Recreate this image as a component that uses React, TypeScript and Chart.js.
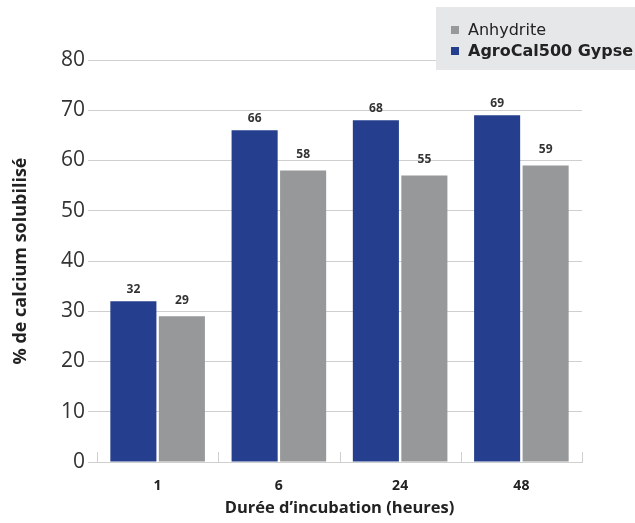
import React, { useEffect, useRef } from "react";
import { Chart, registerables } from "chart.js";

Chart.register(...registerables);

const categories = ["1", "6", "24", "48"];
const gypseValues = [32, 66, 68, 69];
const anhydriteValues = [29, 58, 57, 59];
const gypseLabels = ["32", "66", "68", "69"];
const anhydriteLabels = ["29", "58", "55", "59"];
const yTicks = [0, 10, 20, 30, 40, 50, 60, 70, 80];

const BLUE = "#253f8e";
const GRAY = "#97989a";
const GRID = "#cfcfcf";
const FONT = "'Open Sans', 'DejaVu Sans', sans-serif";
const WIDE = "'DejaVu Sans', sans-serif";

const valueLabelPlugin = {
  id: "valueLabels",
  afterDatasetsDraw(chart: any) {
    const ctx = chart.ctx;
    const sets = [gypseLabels, anhydriteLabels];
    const offsets = [12, 16];
    ctx.save();
    ctx.font = `bold 12px ${FONT}`;
    ctx.fillStyle = "#333";
    ctx.textAlign = "center";
    ctx.textBaseline = "middle";
    chart.data.datasets.forEach((_: any, di: number) => {
      const meta = chart.getDatasetMeta(di);
      meta.data.forEach((el: any, i: number) => {
        ctx.fillText(sets[di][i], el.x, el.y - offsets[di]);
      });
    });
    const area = chart.chartArea;
    ctx.strokeStyle = GRID;
    ctx.lineWidth = 1;
    const n = categories.length;
    const w = (area.right - area.left) / n;
    for (let i = 0; i <= n; i++) {
      const x = Math.round(area.left + i * w) + 0.5;
      ctx.beginPath();
      ctx.moveTo(x, area.bottom);
      ctx.lineTo(x, area.bottom - 10);
      ctx.stroke();
    }
    ctx.restore();
  },
};

const legendPlugin = {
  id: "boxLegend",
  afterDraw(chart: any) {
    const ctx = chart.ctx;
    ctx.save();
    ctx.fillStyle = "#e6e7e8";
    ctx.fillRect(436, 7, 220, 63);
    const items = [
      { label: "Anhydrite", color: GRAY, bold: false, y: 30 },
      { label: "AgroCal500 Gypse", color: BLUE, bold: true, y: 51 },
    ];
    items.forEach((it) => {
      ctx.fillStyle = it.color;
      ctx.fillRect(451, it.y - 4, 8, 8);
      ctx.fillStyle = "#222";
      ctx.font = `${it.bold ? "bold " : ""}16px ${WIDE}`;
      ctx.textAlign = "left";
      ctx.textBaseline = "middle";
      ctx.fillText(it.label, 468, it.y + 1);
    });
    ctx.restore();
  },
};

export default function App() {
  const ref = useRef<HTMLCanvasElement>(null);
  useEffect(() => {
    if (!ref.current) return;
    const chart = new Chart(ref.current, {
      type: "bar",
      data: {
        labels: categories,
        datasets: [
          {
            label: "AgroCal500 Gypse",
            data: gypseValues,
            backgroundColor: BLUE,
            categoryPercentage: 0.8,
            barPercentage: 0.95,
          },
          {
            label: "Anhydrite",
            data: anhydriteValues,
            backgroundColor: GRAY,
            categoryPercentage: 0.8,
            barPercentage: 0.95,
          },
        ],
      },
      options: {
        animation: false,
        responsive: true,
        maintainAspectRatio: false,
        layout: { padding: { top: 60, right: 53, left: 0, bottom: 0 } },
        plugins: { legend: { display: false }, tooltip: { enabled: false } },
        scales: {
          x: {
            grid: { display: false, drawTicks: false },
            border: { display: true, color: GRID },
            ticks: {
              color: "#222",
              font: { family: FONT, size: 14, weight: "bold" },
              padding: 16,
            },
            title: {
              display: true,
              text: "Durée d’incubation (heures)",
              color: "#222",
              font: { family: FONT, size: 16.5, weight: "bold" },
              padding: { top: 0, bottom: 5 },
            },
            afterFit: (s: any) => {
              s.height = 61;
            },
          },
          y: {
            min: 0,
            max: 80,
            afterBuildTicks: (s: any) => {
              s.ticks = yTicks.map((v) => ({ value: v }));
            },
            grid: { color: GRID, drawTicks: true, tickLength: 9 },
            border: { display: false },
            ticks: {
              color: "#333",
              font: { family: FONT, size: 21 },
              padding: 3,
            },
            title: {
              display: true,
              text: "% de calcium solubilisé",
              color: "#222",
              font: { family: FONT, size: 18, weight: "bold" },
              padding: { top: 10, bottom: 0 },
            },
            afterFit: (s: any) => {
              s.width = 97;
            },
          },
        },
      },
      plugins: [valueLabelPlugin, legendPlugin],
    });
    return () => chart.destroy();
  }, []);
  return (
    <div style={{ position: "fixed", left: 0, top: 0, width: 635, height: 523, background: "#fff" }}>
      <canvas ref={ref} />
    </div>
  );
}
